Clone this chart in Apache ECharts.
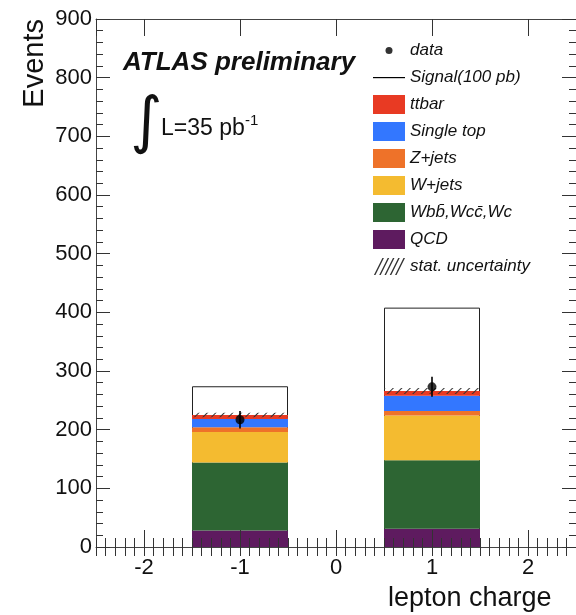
<!DOCTYPE html>
<html><head><meta charset="utf-8">
<script src="https://cdn.jsdelivr.net/npm/echarts@6/dist/echarts.min.js"></script>
<style>html,body{margin:0;padding:0;background:#fff}#c{width:576px;height:615px}</style>
</head><body><div id="c"></div>
<script>
// ---- data ----
const xTickLabels = ['-2', '-1', '0', '1', '2'];
const charges = ['-1', '1'];
const qcd = [28, 31];
const wbbWcc = [116, 117];
const wjets = [52, 76];
const zjets = [8, 8];
const singleTop = [14, 26];
const ttbar = [7, 8];
const signal = [49, 142];
const dataVals = [217, 273];
const dataErr = [15, 17];
const statErr = [4, 5];
const yTickLabels = [0, 100, 200, 300, 400, 500, 600, 700, 800, 900];

// ---- styling ----
const FONT = 'Liberation Sans';
const AX = '#333';
const bkgNames = ['QCD', 'Wbb\u0304,Wcc\u0304,Wc', 'W+jets', 'Z+jets', 'Single top', 'ttbar'];
const bkgData = [qcd, wbbWcc, wjets, zjets, singleTop, ttbar];
const bkgColors = ['#5e1b5f', '#2d6533', '#f4bb30', '#ee7229', '#3377ff', '#e83a23'];
const bkgTotal = charges.map((_, i) => bkgData.reduce((s, a) => s + a[i], 0));

// map values onto the category list
const onCats = fn => xTickLabels.map(c => { const i = charges.indexOf(c); return i < 0 ? null : fn(i); });

const barBase = { type: 'bar', xAxisIndex: 4, barWidth: '100%', barGap: '-100%' };
const series = [];
series.push(Object.assign({}, barBase, {
  name: 'Signal(100 pb)', stack: 'sig', z: 1,
  itemStyle: { color: '#fff', borderColor: '#222', borderWidth: 1 },
  data: onCats(i => bkgTotal[i] + signal[i])
}));
bkgData.forEach((arr, k) => {
  series.push(Object.assign({}, barBase, {
    name: bkgNames[k], stack: 'bkg', z: 2,
    itemStyle: { color: bkgColors[k] },
    data: onCats(i => arr[i])
  }));
});
series.push(Object.assign({}, barBase, {
  name: 'uncbase', stack: 'unc', z: 3, silent: true,
  itemStyle: { color: 'rgba(0,0,0,0)' },
  data: onCats(i => bkgTotal[i] - statErr[i])
}));
series.push(Object.assign({}, barBase, {
  name: 'stat. uncertainty', stack: 'unc', z: 3,
  itemStyle: { color: 'rgba(0,0,0,0)', decal: { symbol: 'rect', symbolSize: 1, color: '#333', backgroundColor: 'rgba(0,0,0,0)', dashArrayX: [1, 0], dashArrayY: [1, 4.5], rotation: -Math.PI / 4 } },
  data: onCats(i => 2 * statErr[i])
}));
series.push({
  type: 'custom', name: 'dataerr', xAxisIndex: 4, z: 6,
  data: charges.map((c, i) => [c, dataVals[i] - dataErr[i], dataVals[i] + dataErr[i]]),
  encode: { x: 0, y: [1, 2] },
  renderItem: (params, api) => {
    const a = api.coord([api.value(0), api.value(1)]);
    const b = api.coord([api.value(0), api.value(2)]);
    return { type: 'line', shape: { x1: a[0], y1: a[1], x2: b[0], y2: b[1] }, style: { stroke: '#000', lineWidth: 1.6 } };
  }
});
series.push({
  type: 'scatter', name: 'data', xAxisIndex: 4, z: 7, symbol: 'circle', symbolSize: 9,
  itemStyle: { color: '#000' },
  data: charges.map((c, i) => [c, dataVals[i]])
});

// legend icons (paths with fixed 32x19 bounds)
const dotIcon = 'path://M0,0M32,19M19.5,9.5A3.5,3.5,0,1,1,12.5,9.5A3.5,3.5,0,1,1,19.5,9.5Z';
const lineIcon = 'path://M0,0M32,19M0,9L32,9L32,10.2L0,10.2Z';
let hp = 'path://M0,0M32,19';
for (let k = 0; k < 5; k++) { const x = 1 + k * 5.6; hp += `M${x},19L${x + 1.6},19L${x + 10.6},1L${x + 9},1Z`; }
const hatchIcon = hp;

const axisLine = { show: true, onZero: false, lineStyle: { color: '#444', width: 1 } };
const majX = { type: 'value', min: -2.5, max: 2.5, z: 10, splitLine: { show: false } };
const minX = { type: 'value', min: -2.5, max: 2.5, interval: 0.1, z: 10, splitLine: { show: false },
  axisLine: { show: false }, axisLabel: { show: false }, axisTick: { show: true, inside: true, length: 9, lineStyle: { color: AX } } };

const option = {
  animation: false,
  textStyle: { fontFamily: FONT },
  grid: { left: 96, right: 0, top: 19, bottom: 68 },
  xAxis: [
    Object.assign({}, majX, {
      position: 'bottom', axisLine,
      axisTick: { show: true, inside: true, length: 17, lineStyle: { color: AX } },
      axisLabel: { show: true, fontSize: 22, color: '#111', margin: 10, fontFamily: FONT, showMinLabel: false, showMaxLabel: false,
        formatter: v => (xTickLabels.indexOf(String(Math.round(v * 1000) / 1000)) >= 0 ? String(Math.round(v)) : '') },
      name: 'lepton charge', nameLocation: 'end', nameGap: -188,
      nameTextStyle: { fontSize: 27, color: '#111', align: 'left', verticalAlign: 'top', padding: [38, 0, 0, 0], fontFamily: FONT }
    }),
    Object.assign({}, minX, { position: 'bottom' }),
    Object.assign({}, majX, { position: 'top', axisLine, axisLabel: { show: false },
      axisTick: { show: true, inside: true, length: 17, lineStyle: { color: AX } } }),
    Object.assign({}, minX, { position: 'top' }),
    { type: 'category', data: xTickLabels, position: 'bottom', boundaryGap: true, show: false }
  ],
  yAxis: [
    { type: 'value', min: 0, max: 900, interval: 100, position: 'left', z: 10, axisLine,
      splitLine: { show: false },
      axisTick: { show: true, inside: true, length: 14, lineStyle: { color: AX } },
      minorTick: { show: true, splitNumber: 5, length: 7, lineStyle: { color: AX } },
      axisLabel: { fontSize: 22, color: '#111', margin: 4, fontFamily: FONT,
        formatter: v => (yTickLabels.indexOf(v) >= 0 ? String(v) : '') },
      name: 'Events', nameLocation: 'end', nameRotate: 90, nameGap: 0,
      nameTextStyle: { fontSize: 29, color: '#111', align: 'right', verticalAlign: 'bottom', padding: [0, 0, 47, 0], fontFamily: FONT }
    },
    { type: 'value', min: 0, max: 900, interval: 100, position: 'right', z: 10, axisLine,
      splitLine: { show: false }, axisLabel: { show: false },
      axisTick: { show: true, inside: true, length: 14, lineStyle: { color: AX } },
      minorTick: { show: true, splitNumber: 5, length: 7, lineStyle: { color: AX } } }
  ],
  legend: {
    orient: 'vertical', left: 373, top: 41, padding: 0, itemWidth: 32, itemHeight: 19, itemGap: 8,
    selectedMode: false,
    textStyle: { fontSize: 17, fontStyle: 'italic', fontFamily: FONT, color: '#111' },
    data: [
      { name: 'data', icon: dotIcon, itemStyle: { color: '#000' } },
      { name: 'Signal(100 pb)', icon: lineIcon, itemStyle: { color: '#000', borderWidth: 0 } },
      { name: 'ttbar', icon: 'rect' },
      { name: 'Single top', icon: 'rect' },
      { name: 'Z+jets', icon: 'rect' },
      { name: 'W+jets', icon: 'rect' },
      { name: bkgNames[1], icon: 'rect' },
      { name: 'QCD', icon: 'rect' },
      { name: 'stat. uncertainty', icon: hatchIcon, itemStyle: { color: '#333', decal: 'none' } }
    ]
  },
  graphic: [
    { type: 'text', left: 123, top: 50, style: { text: 'ATLAS preliminary', font: 'italic bold 26px "Liberation Sans"', fill: '#111' } },
    { type: 'text', left: 130, top: 94, style: { text: '\u222B', font: '62px "DejaVu Sans"', fill: '#111' } },
    { type: 'text', left: 161, top: 117, style: { text: 'L=35 pb', font: '23px "Liberation Sans"', fill: '#111' } },
    { type: 'text', left: 245, top: 113, style: { text: '-1', font: '15px "Liberation Sans"', fill: '#111' } }
  ],
  series
};
const chart = echarts.init(document.getElementById('c'), null, { renderer: 'canvas' });
chart.setOption(option);
</script>
</body></html>
